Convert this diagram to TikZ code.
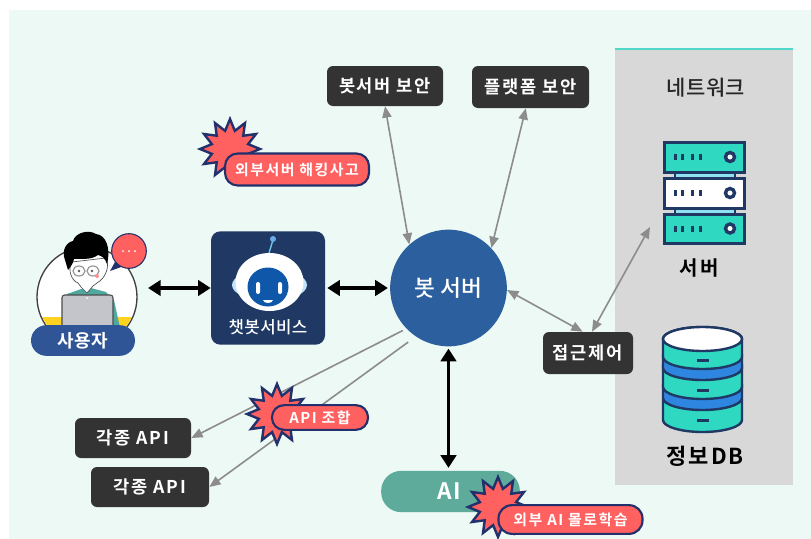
\documentclass[tikz,border=0pt]{standalone}
\usepackage{fontspec}
\usetikzlibrary{arrows.meta,shapes.geometric,calc}
\setmainfont{Noto Sans CJK KR}[BoldFont={Noto Sans CJK KR Bold}]
\newfontfamily\krb{Noto Sans CJK KR Bold}[LetterSpace=4]
\newfontfamily\krw{Noto Sans CJK KR Bold}[LetterSpace=10]
\newfontfamily\krm{Noto Sans CJK KR Medium}[LetterSpace=2]
\definecolor{mint}{HTML}{ECF9F5}
\definecolor{panel}{HTML}{D8D8D8}
\definecolor{tealline}{HTML}{4FD8C8}
\definecolor{navy}{HTML}{1F3864}
\definecolor{boxdark}{HTML}{333333}
\definecolor{botblue}{HTML}{2C5F9E}
\definecolor{pillblue}{HTML}{2F5597}
\definecolor{alert}{HTML}{FF6161}
\definecolor{burstline}{HTML}{22306B}
\definecolor{aigreen}{HTML}{5EAB9C}
\definecolor{arrowgrey}{HTML}{8C8C8C}
\definecolor{iconteal}{HTML}{2FD8C1}
\definecolor{iconlight}{HTML}{8FE3F0}
\definecolor{iconblue}{HTML}{2F86E0}
\definecolor{robotblue}{HTML}{0F57A8}
\definecolor{robotglow}{HTML}{BFE4FA}
\definecolor{shirt}{HTML}{4FA8A0}
\definecolor{laptop}{HTML}{C4C5CB}
\definecolor{yellowtop}{HTML}{FFD21F}
\newdimen\pxu \pxu=0.75pt
\newcommand{\drum}[3]{% y top, y bottom, colour
  \draw[navy,line width=2.4\pxu,fill=#3,line join=round] (663,#1) -- (663,#2) arc[start angle=180,end angle=360,x radius=39.5,y radius=-12] -- (742,#1) arc[start angle=0,end angle=180,x radius=39.5,y radius=-12] -- cycle;}
\newcommand{\srvrow}[3]{% top, bottom, colour
  \draw[navy,line width=3\pxu,fill=#3] (664.5,#1) rectangle (744,#2);
  \foreach \dx in {675,682,692,700}{\fill[navy] (\dx-1.5,{(#1+#2)/2-3}) rectangle (\dx+1.5,{(#1+#2)/2+3});}
  \draw[navy,line width=3.4\pxu,fill=white] (730,{(#1+#2)/2}) circle[radius=4.5];}
\tikzset{
  x=0.75pt,y=-0.75pt,
  darkbox/.style={fill=boxdark,rounded corners=4.5pt,text=white,inner sep=0,font=\krw\fontsize{13.2}{15}\selectfont},
  alertpill/.style={fill=alert,draw=burstline,line width=1.6pt,rounded corners=9.5pt,text=white,inner sep=0,font=\krw\fontsize{11.2}{13}\selectfont},
  burst/.style={star,star points=12,star point ratio=1.6,fill=alert,draw=burstline,line width=1.8pt,inner sep=0,minimum size=45pt},
  blackarrow/.style={{Triangle[length=9.5pt,width=11.5pt]}-{Triangle[length=9.5pt,width=11.5pt]},line width=2.4pt,black},
  greyarrow/.style={line width=1.2pt,arrowgrey},
  greyboth/.style={greyarrow,{Triangle[length=8.5pt,width=7pt]}-{Triangle[length=8.5pt,width=7pt]}},
  greyto/.style={greyarrow,-{Triangle[length=8.5pt,width=7pt]}},
  icontext/.style={text=black,inner sep=0,font=\krw\fontsize{15}{17}\selectfont},
}
\begin{document}
\begin{tikzpicture}
\useasboundingbox (0,0) rectangle (811,539);
\fill[white] (0,0) rectangle (811,539);
\fill[mint] (9,10) rectangle (811,539);
% network panel
\fill[panel] (615,49) rectangle (793,485);
\draw[tealline,line width=1.5pt] (615,49) -- (793,49);
\node[inner sep=0,text=black!85,font=\krm\fontsize{15.7}{18}\selectfont] (nettitle) at (706,88) {네트워크};
% server icon
\fill[iconlight] (675,170) rectangle (735,216);
\draw[navy,line width=2\pxu] (675,170) -- (675,216) (735,170) -- (735,216);
\srvrow{142}{172}{iconteal}
\srvrow{178}{208}{white}
\srvrow{214}{243}{iconteal}
\node[icontext] (srvlabel) at (699,268) {서버};
\coordinate (srvpt) at (650,227);
% DB icon
\drum{400}{420}{iconteal}
\drum{385}{398}{iconblue}
\drum{365}{387}{iconteal}
\drum{355}{368}{iconblue}
\drum{339}{357}{iconteal}
\draw[navy,line width=2.4\pxu,fill=white] (702.5,339) ellipse[x radius=39.5,y radius=12];
\foreach \sy in {360,390,420}{\fill[navy] (697,\sy-1.5) rectangle (709,\sy+1.5);}
\node[inner sep=0,text=black,font=\krw\fontsize{16.5}{19}\selectfont] (dblabel) at (705,456) {정보DB};
% user
\node[circle,draw=black!75,fill=white,line width=1pt,minimum size=75pt,inner sep=0] (usercirc) at (87,297) {};
\begin{scope}
\clip (87,297) circle[radius=49];
\fill[yellowtop] (37,317) rectangle (137,330);
\end{scope}
\fill[shirt] (67,294) -- (87,287) -- (106,292) -- (114,300) -- (120,328) -- (62,328) -- cycle;
\draw[black!70,line width=0.5pt,fill=white] (72,262) .. controls (67,270) and (72,281) .. (78,283) -- (81,287) -- (87,293) -- (93,286) -- (97,283) .. controls (106,278) and (110,266) .. (106,258) -- cycle;
\fill[black] (65,260) .. controls (61,250) and (67,242) .. (73,241) .. controls (75,233) and (88,229) .. (96,234) .. controls (106,235) and (111,248) .. (107,264) .. controls (105,258) and (102,256) .. (98,255) .. controls (90,261) and (79,258) .. (74,259) .. controls (73,264) and (71,266) .. (68,270) -- cycle;
\draw[black!40,line width=0.9pt,fill=white,fill opacity=.5] (79,271) ellipse[x radius=6,y radius=5] (93,271) ellipse[x radius=6,y radius=5];
\fill[black!65] (79,271) circle[radius=1.4] (92,271) circle[radius=1.4];
\fill[alert!70] (97,276) circle[radius=2];
\draw[black!70,line width=0.8pt,fill=laptop,rounded corners=2pt] (62,328) -- (62,295) -- (113,295) -- (113,328);
\fill[white] (87,298) circle[radius=1];
\node[fill=pillblue,rounded corners=11.5pt,minimum width=78pt,minimum height=23pt,inner sep=0,text=white,font=\krb\fontsize{13.5}{15}\selectfont] (user) at (83,340.5) {사용자};
\coordinate (userpt) at (148,288);
% speech bubble
\fill[burstline] (115,262) -- (110,271) -- (124,266) -- cycle;
\node[circle,draw=burstline,fill=alert,line width=0.8pt,minimum size=26pt,inner sep=0] (bubble) at (129,251) {};
\foreach \bx in {123,129,135}{\fill[white] (\bx,251) circle[radius=1];}
% chatbot
\node[fill=navy,rounded corners=7pt,minimum width=85.5pt,minimum height=85pt,inner sep=0] (chatbot) at (268,288) {};
\draw[iconlight!70!iconblue,line width=1pt] (269,253) -- (273,240);
\fill[iconblue!70!white] (273,239) circle[radius=3];
\fill[robotglow] (269.5,285) ellipse[x radius=37.5,y radius=16];
\fill[white] (269.5,282) ellipse[x radius=34,y radius=29];
\fill[robotblue] (268,287) ellipse[x radius=20.5,y radius=19.5];
\fill[white,rounded corners=1.5pt] (256,282) rectangle (260,294);
\fill[white,rounded corners=1.5pt] (278,282) rectangle (282,294);
\fill[white] (263,300) -- (273,300) .. controls (272,304) and (264,304) .. (263,300) -- cycle;
\node[inner sep=0,text=white,font=\krm\fontsize{12.6}{15}\selectfont] (chatlabel) at (268,327) {챗봇서비스};
% bot server
\node[circle,fill=botblue,minimum size=87.5pt,inner sep=0,text=white,font=\krm\fontsize{17}{20}\selectfont] (bot) at (448.5,288) {봇 서버};
% dark boxes
\node[darkbox,minimum width=87pt,minimum height=30pt] (secA) at (385,86) {봇서버 보안};
\node[darkbox,minimum width=87.75pt,minimum height=31.5pt] (secB) at (530.5,87) {플랫폼 보안};
\node[darkbox,minimum width=67.5pt,minimum height=31.5pt] (acc) at (588,353) {접근제어};
\node[darkbox,minimum width=87pt,minimum height=30pt] (apiA) at (133,438) {각종 API};
\node[darkbox,minimum width=88.5pt,minimum height=30pt] (apiB) at (150,487) {각종 API};
% AI
\node[fill=aigreen,rounded corners=15pt,minimum width=104pt,minimum height=31pt,inner sep=0,text=white,font=\krb\fontsize{17}{20}\selectfont] (ai) at (450.5,491.5) {\hspace*{-2pt}AI};
% connectors
\draw[blackarrow] (userpt) -- (chatbot.west);
\draw[blackarrow] ([xshift=1.5pt]chatbot.east) -- ([xshift=-1.5pt]bot.west);
\draw[blackarrow,shorten <=1.5pt,shorten >=2pt] (bot.south) -- (ai.north -| bot.south);
\draw[greyboth] (secA.south) -- (bot.132);
\draw[greyboth] ([xshift=-3.5pt]secB.south) -- (bot.43);
\draw[greyboth] (bot.-2) -- ([xshift=-4pt]acc.north);
\draw[greyboth] ([xshift=3pt]acc.north) -- (srvpt);
\draw[greyto,shorten <=3pt] (bot.224) -- (apiA.east);
\draw[greyto,shorten <=7pt] (bot.236) -- (apiB.east);
% bursts
\node[burst] (b1) at (230,149) {};
\node[alertpill,minimum width=108pt,minimum height=24pt] (p1) at (297,169.5) {외부서버 해킹사고};
\node[burst] (b2) at (277,414) {};
\node[alertpill,minimum width=72pt,minimum height=18.5pt,rounded corners=9pt] (p2) at (320,417.5) {API 조합};
\node[burst] (b3) at (498,507) {};
\node[alertpill,minimum width=108pt,minimum height=21.5pt,rounded corners=10pt] (p3) at (570.5,519.5) {외부 AI 몰로학습};
\end{tikzpicture}
\end{document}
